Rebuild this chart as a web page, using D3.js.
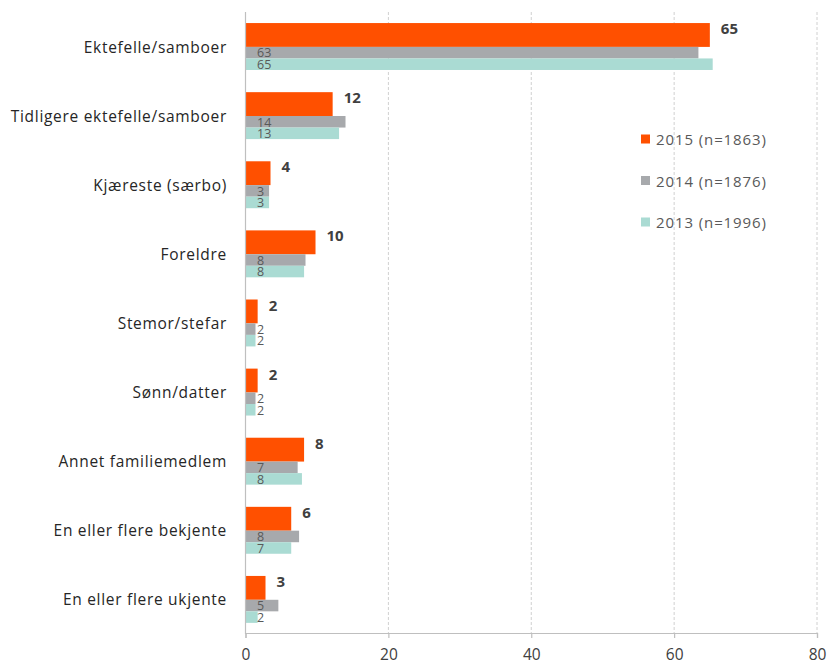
<!DOCTYPE html>
<html>
<head>
<meta charset="utf-8">
<script src="https://cdn.jsdelivr.net/npm/d3@7"></script>
<style>
  html, body { margin: 0; padding: 0; background: #fff; }
  svg { display: block; font-family: "Open Sans", "DejaVu Sans", sans-serif; }
</style>
</head>
<body>
<svg id="chart" width="830" height="664"></svg>
<script>
const categories = [
  "Ektefelle/samboer",
  "Tidligere ektefelle/samboer",
  "Kjæreste (særbo)",
  "Foreldre",
  "Stemor/stefar",
  "Sønn/datter",
  "Annet familiemedlem",
  "En eller flere bekjente",
  "En eller flere ukjente"
];
const seriesNames = ["2015 (n=1863)", "2014 (n=1876)", "2013 (n=1996)"];
const values2015 = [65, 12.2, 3.5, 9.8, 1.7, 1.7, 8.2, 6.4, 2.8];
const values2014 = [63.4, 14.0, 3.3, 8.4, 1.4, 1.4, 7.3, 7.5, 4.6];
const values2013 = [65.4, 13.1, 3.3, 8.2, 1.4, 1.4, 7.9, 6.4, 1.7];
const labels2015 = ["65", "12", "4", "10", "2", "2", "8", "6", "3"];
const labels2014 = ["63", "14", "3", "8", "2", "2", "7", "8", "5"];
const labels2013 = ["65", "13", "3", "8", "2", "2", "8", "7", "2"];
const xTicks = [0, 20, 40, 60, 80];
const colors = ["#FF5000", "#A7A9AC", "#AADBD3"];

(function () {
const svg = d3.select("#chart");
const mLeft = 245.5, mRight = 817, mTop = 12, mBottom = 634;

const x = d3.scaleLinear().domain([0, 80]).range([mLeft, mRight]);
const y = d3.scaleBand().domain(categories).range([mTop, mBottom]).padding(0);
const bw = y.bandwidth();
const orangeTop = 0.16 * bw, orangeH = 0.345 * bw, smallH = 0.167 * bw;

svg.append("g").selectAll("line").data(xTicks.filter(d => d > 0)).join("line")
  .attr("x1", d => x(d)).attr("x2", d => x(d))
  .attr("y1", mTop).attr("y2", mBottom)
  .attr("stroke", "#d0d0d0").attr("stroke-width", 1)
  .attr("stroke-dasharray", "3,2");

const rows = categories.map((c, i) => ({
  c, i,
  v: [values2015[i], values2014[i], values2013[i]],
  l: [labels2015[i], labels2014[i], labels2013[i]]
}));

const g = svg.append("g");
rows.forEach(r => {
  const y0 = y(r.c);
  const tops = [y0 + orangeTop, y0 + orangeTop + orangeH, y0 + orangeTop + orangeH + smallH];
  const hs = [orangeH, smallH, smallH];
  r.v.forEach((v, k) => {
    g.append("rect")
      .attr("x", x(0)).attr("y", tops[k])
      .attr("width", x(v) - x(0)).attr("height", hs[k])
      .attr("fill", colors[k]);
  });
  g.append("text")
    .attr("x", x(r.v[0]) + 11).attr("y", tops[0] + 11)
    .attr("font-size", 15).attr("font-weight", "bold")
    .attr("fill", "#404040").text(r.l[0]);
  [1, 2].forEach(k => {
    g.append("text")
      .attr("x", x(0) + 11.5).attr("y", tops[k] + hs[k] - 1)
      .attr("font-size", 12.5).attr("fill", "#595959")
      .text(r.l[k]);
  });
});

svg.append("line").attr("x1", x(0)).attr("x2", x(0)).attr("y1", mTop).attr("y2", mBottom)
  .attr("stroke", "#bfbfbf").attr("stroke-width", 1.2);

svg.append("g").selectAll("text").data(categories).join("text")
  .attr("x", 227).attr("y", d => y(d) + bw / 2)
  .attr("text-anchor", "end").attr("dominant-baseline", "central")
  .attr("font-size", 15.5).attr("letter-spacing", 0.7).attr("fill", "#262626")
  .text(d => d);

const xAxis = d3.axisBottom(x).tickValues(xTicks).tickSize(5).tickPadding(11).tickFormat(d3.format("d"));
const ax = svg.append("g").attr("transform", `translate(0,${mBottom - 1})`).call(xAxis);
ax.select(".domain").attr("stroke", "#bfbfbf").attr("stroke-width", 1.2);
ax.selectAll(".tick line").attr("stroke", "#bfbfbf").attr("stroke-width", 1.2);
ax.selectAll(".tick text").attr("font-size", 15.5).attr("fill", "#404040")
  .attr("font-family", "'Open Sans', sans-serif");

const leg = svg.append("g");
seriesNames.forEach((s, k) => {
  const cy = 139 + k * 41.5;
  leg.append("rect").attr("x", 641).attr("y", cy - 4.5).attr("width", 9).attr("height", 9).attr("fill", colors[k]);
  leg.append("text").attr("x", 656).attr("y", cy).attr("dominant-baseline", "central")
    .attr("font-size", 15).attr("letter-spacing", 0.9).attr("fill", "#595959").text(s);
});
})();
</script>
</body>
</html>
